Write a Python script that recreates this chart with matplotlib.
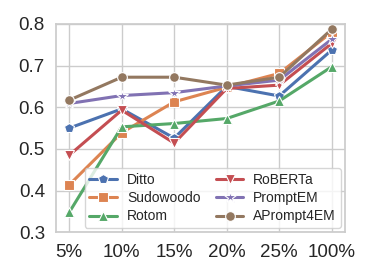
import matplotlib
matplotlib.use("Agg")
import matplotlib.pyplot as plt
import seaborn as sns

sns.set_theme(style="whitegrid", palette="deep")
plt.rcParams['font.family'] = ['Arial', 'Liberation Sans', 'DejaVu Sans']

labels = ["5%", "10%", "15%", "20%", "25%", "100%"]
ditto = [0.550, 0.596, 0.526, 0.650, 0.627, 0.737]
sudowoodo = [0.414, 0.539, 0.613, 0.648, 0.681, 0.780]
rotom = [0.348, 0.553, 0.561, 0.573, 0.615, 0.697]
roberta = [0.485, 0.593, 0.514, 0.645, 0.653, 0.753]
promptem = [0.609, 0.628, 0.635, 0.651, 0.665, 0.763]
aprompt = [0.617, 0.672, 0.672, 0.653, 0.672, 0.787]

series = [
    ("Ditto", ditto, "p"),
    ("Sudowoodo", sudowoodo, "s"),
    ("Rotom", rotom, "^"),
    ("RoBERTa", roberta, "v"),
    ("PromptEM", promptem, "*"),
    ("APrompt4EM", aprompt, "o"),
]
colors = sns.color_palette("deep")

fig, ax = plt.subplots(figsize=(3.74, 2.8), dpi=100)
x = list(range(len(labels)))
for i, (name, vals, m) in enumerate(series):
    ms = 9 if m == "*" else 7
    ax.plot(x, vals, marker=m, color=colors[i], label=name, linewidth=2.2,
            markersize=ms, markeredgecolor="white", markeredgewidth=0.8)

ax.set_xticks(x)
ax.set_xticklabels(labels)
ax.set_xlim(-0.25, 5.25)
ax.set_ylim(0.3, 0.8)
ax.set_yticks([0.3, 0.4, 0.5, 0.6, 0.7, 0.8])
ax.tick_params(axis='both', labelsize=13.5, pad=2)
for s in ax.spines.values():
    s.set_color("#cccccc")
leg = ax.legend(loc="lower right", ncol=2, fontsize=10, frameon=True,
                borderpad=0.35, labelspacing=0.3, handlelength=2.0,
                columnspacing=1.1, handletextpad=0.7, borderaxespad=0.3)
fig.subplots_adjust(left=0.15, right=0.922, top=0.915, bottom=0.17)
fig.savefig("out.png", dpi=100)
